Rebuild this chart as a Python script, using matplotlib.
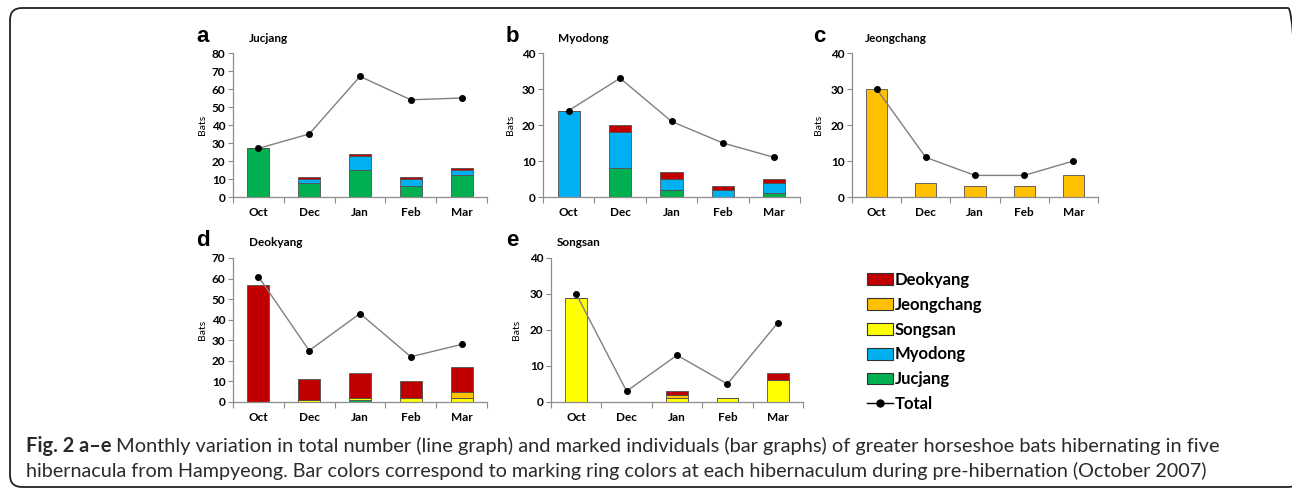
import matplotlib
matplotlib.use("Agg")
import matplotlib.pyplot as plt
from matplotlib.patches import FancyBboxPatch, Patch
from matplotlib.lines import Line2D
from matplotlib.transforms import IdentityTransform
import numpy as np

plt.rcParams['font.family'] = ['Lato', 'DejaVu Sans']

months = ['Oct', 'Dec', 'Jan', 'Feb', 'Mar']
series_names = ['Jucjang', 'Myodong', 'Songsan', 'Jeongchang', 'Deokyang']
series_colors = {'Jucjang': '#00B050', 'Myodong': '#00B0F0', 'Songsan': '#FFFF00',
                 'Jeongchang': '#FFC000', 'Deokyang': '#C00000'}

# Panel a: Jucjang
a_jucjang = [27, 8, 15, 6, 12]
a_myodong = [0, 2, 8, 4, 3]
a_songsan = [0, 0, 0, 0, 0]
a_jeongchang = [0, 0, 0, 0, 0]
a_deokyang = [0, 1, 1, 1, 1]
a_total = [27, 35, 67, 54, 55]

# Panel b: Myodong
b_jucjang = [0, 8, 2, 0, 1]
b_myodong = [24, 10, 3, 2, 3]
b_songsan = [0, 0, 0, 0, 0]
b_jeongchang = [0, 0, 0, 0, 0]
b_deokyang = [0, 2, 2, 1, 1]
b_total = [24, 33, 21, 15, 11]

# Panel c: Jeongchang
c_jucjang = [0, 0, 0, 0, 0]
c_myodong = [0, 0, 0, 0, 0]
c_songsan = [0, 0, 0, 0, 0]
c_jeongchang = [30, 4, 3, 3, 6]
c_deokyang = [0, 0, 0, 0, 0]
c_total = [30, 11, 6, 6, 10]

# Panel d: Deokyang
d_jucjang = [0, 0, 1, 0, 0]
d_myodong = [0, 0, 0, 0, 0]
d_songsan = [0, 1, 1, 2, 2]
d_jeongchang = [0, 0, 0, 0, 3]
d_deokyang = [57, 10, 12, 8, 12]
d_total = [61, 25, 43, 22, 28]

# Panel e: Songsan
e_jucjang = [0, 0, 0, 0, 0]
e_myodong = [0, 0, 0, 0, 0]
e_songsan = [29, 0, 1, 1, 6]
e_jeongchang = [0, 0, 1, 0, 0]
e_deokyang = [0, 0, 1, 0, 2]
e_total = [30, 3, 13, 5, 22]

panels = [
    ('a', 'Jucjang', [a_jucjang, a_myodong, a_songsan, a_jeongchang, a_deokyang], a_total, 80),
    ('b', 'Myodong', [b_jucjang, b_myodong, b_songsan, b_jeongchang, b_deokyang], b_total, 40),
    ('c', 'Jeongchang', [c_jucjang, c_myodong, c_songsan, c_jeongchang, c_deokyang], c_total, 40),
    ('d', 'Deokyang', [d_jucjang, d_myodong, d_songsan, d_jeongchang, d_deokyang], d_total, 70),
    ('e', 'Songsan', [e_jucjang, e_myodong, e_songsan, e_jeongchang, e_deokyang], e_total, 40),
]

W, H = 1292, 492
fig = plt.figure(figsize=(W / 100, H / 100), dpi=100)

# rounded frame (pixel coordinates, origin bottom-left)
fl, fr, ft, fb = 10, 1300, 8, 487
frame = FancyBboxPatch((fl, H - fb), fr - fl, fb - ft,
                       boxstyle="round,pad=0,rounding_size=12",
                       transform=IdentityTransform(), fill=False, edgecolor='#222222',
                       linewidth=1.3, clip_on=False)
fig.patches.append(frame)

# axes boxes in pixels: (left, right, top, bottom)
boxes = [(233, 487, 53, 197), (543, 800, 53, 197), (852, 1098, 53, 197),
         (233, 487, 258, 402), (551, 803, 258, 402)]
letter_pos = [(203, 36), (512, 36), (819, 36), (203, 241), (512, 241)]
title_x = [249, 558, 865, 249, 557]
title_y = [38, 38, 38, 243, 243]
ylabel_x = [202, 511, 818, 202, 517]

x = np.arange(len(months))
spine_col = '#8c8c8c'
for i, (letter, title, stacks, total, ymax) in enumerate(panels):
    l, r, t, b = boxes[i]
    ax = fig.add_axes([l / W, 1 - b / H, (r - l) / W, (b - t) / H])
    bottom = np.zeros(len(months))
    for name, vals in zip(series_names, stacks):
        vals = np.array(vals, dtype=float)
        if vals.sum() == 0:
            continue
        ax.bar(x, vals, width=0.43, bottom=bottom, color=series_colors[name],
               edgecolor='#505050', linewidth=0.6, zorder=2)
        bottom += vals
    ax.plot(x, total, color='#7f7f7f', linewidth=1.0, marker='o', markersize=4,
            markerfacecolor='black', markeredgecolor='black', zorder=3)
    ax.set_xlim(-0.5, len(months) - 0.5)
    ax.set_ylim(0, ymax)
    ax.set_yticks(np.arange(0, ymax + 1, 10))
    ax.set_xticks(x)
    ax.set_xticklabels(months)
    ax.set_xticks(np.arange(-0.5, len(months), 1.0), minor=True)
    ax.tick_params(axis='x', which='major', length=0, pad=7, labelsize=8.5)
    ax.tick_params(axis='x', which='minor', length=4, direction='out', color=spine_col, width=0.8)
    ax.tick_params(axis='y', length=3.5, direction='out', color=spine_col, width=0.8,
                   labelsize=8.5, pad=2)
    for lab in ax.get_xticklabels() + ax.get_yticklabels():
        lab.set_fontweight('bold')
    for s in ['top', 'right']:
        ax.spines[s].set_visible(False)
    for s in ['left', 'bottom']:
        ax.spines[s].set_color(spine_col)
        ax.spines[s].set_linewidth(0.9)
    ax.set_facecolor('none')
    fig.text(letter_pos[i][0] / W, 1 - letter_pos[i][1] / H, letter, fontsize=16,
             fontweight='bold', ha='center', va='center',
             family=['Liberation Sans', 'DejaVu Sans'])
    fig.text(title_x[i] / W, 1 - title_y[i] / H, title, fontsize=8.5,
             fontweight='bold', ha='left', va='center')
    cy = (t + b) / 2
    fig.text(ylabel_x[i] / W, 1 - cy / H, 'Bats', fontsize=7.5, rotation=90,
             ha='center', va='center')

# legend
leg_order = ['Deokyang', 'Jeongchang', 'Songsan', 'Myodong', 'Jucjang']
handles = [Patch(facecolor=series_colors[n], edgecolor='#333333', linewidth=0.8) for n in leg_order]
handles.append(Line2D([0], [0], color='black', linewidth=1.0, marker='o', markersize=5))
labels = leg_order + ['Total']
leg = fig.legend(handles, labels, loc='upper left', bbox_to_anchor=(867 / W, 1 - 272 / H),
                 frameon=False, prop={'weight': 'bold', 'size': 12},
                 handlelength=1.55, handleheight=0.7, handletextpad=0.1,
                 labelspacing=0.53, borderaxespad=0, borderpad=0)

# caption
cap_font = ['Lato', 'DejaVu Sans']
cap_size = 12
cap_col = '#2a2a2a'
y1, y2 = 446, 471
t1 = fig.text(26 / W, 1 - y1 / H, 'Fig. 2 a–e', fontsize=cap_size, fontweight='bold',
              family=cap_font, va='center', ha='left', color=cap_col)
rest1 = ('Monthly variation in total number (line graph) and marked individuals (bar graphs) '
         'of greater horseshoe bats hibernating in five')
line2 = ('hibernacula from Hampyeong. Bar colors correspond to marking ring colors at each '
         'hibernaculum during pre-hibernation (October 2007)')
a1 = fig.text(0, 0, rest1, fontsize=cap_size, family=cap_font, va='center', ha='left',
              color=cap_col)
a2 = fig.text(26 / W, 1 - y2 / H, line2, fontsize=cap_size, family=cap_font,
              va='center', ha='left', color=cap_col)

fig.canvas.draw()
r = fig.canvas.get_renderer()
target_line1 = 1218 - 26
target_line2 = 1202 - 26
w_bold = t1.get_window_extent(r).width
w_rest = a1.get_window_extent(r).width
w_l2 = a2.get_window_extent(r).width
space = cap_size * 0.3
size1 = cap_size * target_line1 / (w_bold + w_rest + space)
size2 = cap_size * target_line2 / w_l2
t1.set_fontsize(size1)
a1.set_fontsize(size1)
a2.set_fontsize(size2)
fig.canvas.draw()
bb = t1.get_window_extent(r)
a1.set_position(((bb.x1 + size1 * 0.3) / W, 1 - y1 / H))

fig.savefig('out.png', dpi=100)
